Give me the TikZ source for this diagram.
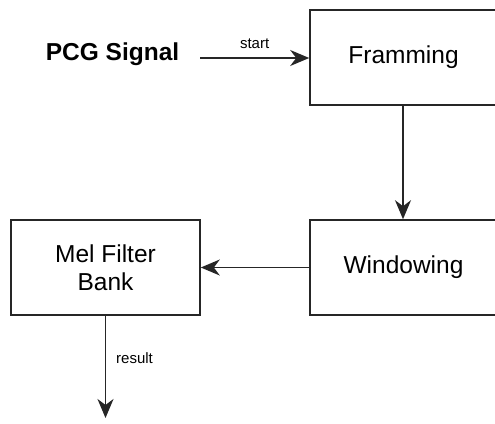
\documentclass[tikz,border=0pt]{standalone}
\usepackage{fontspec}
\setmainfont{Liberation Sans}
\usetikzlibrary{arrows.meta}
\begin{document}
\begin{tikzpicture}[x=1pt,y=-1pt,
  blk/.style={draw=black!85, line width=1.6pt, fill=white, inner sep=0pt, align=center,
    font=\fontsize{24.5}{28}\selectfont},
  conn/.style={line width=1.4pt, draw=black!85, -{Stealth[length=19pt,width=16pt,inset=6pt]}},
  lbl/.style={font=\fontsize{15}{18}\selectfont, inner sep=0pt}]
\useasboundingbox (0,0) rectangle (495,423);
\clip (0,0) rectangle (495,423);
\fill[white] (0,0) rectangle (495,423);
\node[font=\bfseries\fontsize{24.5}{28}\selectfont, inner sep=0pt] (pcg) at (112.5,54) {PCG Signal};
\coordinate (s0) at (200,58);
\node[blk, minimum width=187, minimum height=95] (fram) at (403.5,57.5) {Framming};
\node[blk, minimum width=187, minimum height=95] (win) at (403.5,267.5) {Windowing};
\node[blk, minimum width=189, minimum height=95] (mel) at (105.5,267.5) {Mel Filter\\Bank};
\coordinate (end) at (105.5,418);
\draw[conn] (s0) -- (s0 -| fram.west) node[lbl, midway, above=9pt] {start};
\draw[conn] (fram.south -| 403,0) -- (win.north -| 403,0);
\draw[conn] (win.west) -- (mel.east);
\draw[conn] (mel.south) -- (end) node[lbl, pos=0.41, right=10pt] {result};
\end{tikzpicture}
\end{document}
